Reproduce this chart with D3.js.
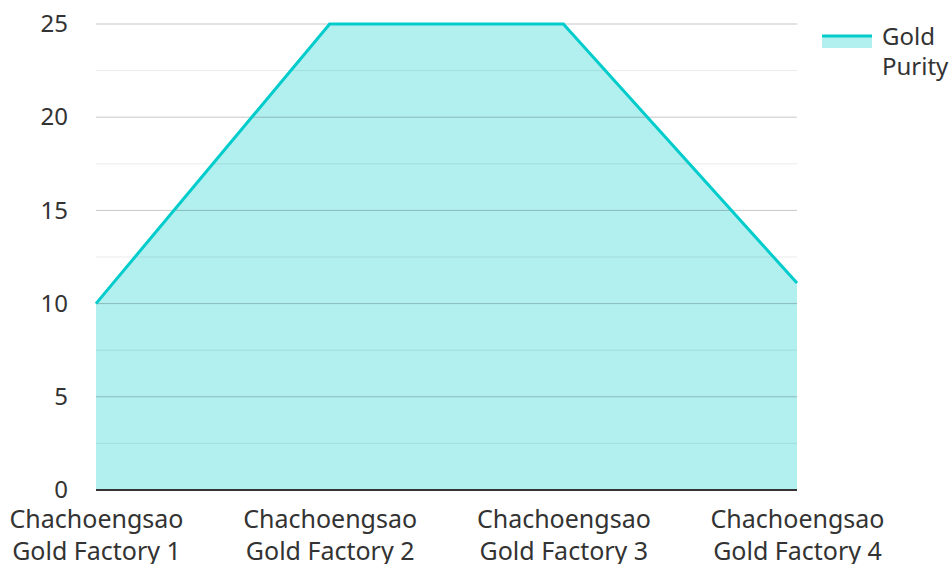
<!DOCTYPE html>
<html>
<head>
<meta charset="utf-8">
<script src="https://cdn.jsdelivr.net/npm/d3@7"></script>
<style>
  body { margin: 0; background: #fff; }
  text { font-family: "Noto Sans", "Open Sans", sans-serif; fill: #333; }
</style>
</head>
<body>
<div id="chart"></div>
<script>
// data
const factories = ["Chachoengsao Gold Factory 1", "Chachoengsao Gold Factory 2",
                   "Chachoengsao Gold Factory 3", "Chachoengsao Gold Factory 4"];
const purity = [10, 25, 25, 11.1];
const yTicks = [0, 5, 10, 15, 20, 25];
const minorTicks = [2.5, 7.5, 12.5, 17.5, 22.5];
const seriesName = ["Gold", "Purity"];

const W = 952, H = 564;
const margin = {top: 24, right: 155, bottom: 74, left: 96};
const width = W - margin.left - margin.right,
      height = H - margin.top - margin.bottom;

const svg = d3.select("#chart").append("svg")
    .attr("width", W).attr("height", H);
const g = svg.append("g")
    .attr("transform", `translate(${margin.left},${margin.top})`);

const x = d3.scalePoint().domain(factories).range([0, width]);
const y = d3.scaleLinear().domain([0, 25]).range([height, 0]);

// area + line first, gridlines drawn on top (as in reference)
const data = factories.map((f, i) => ({f, v: purity[i]}));

g.append("path")
    .datum(data)
    .attr("fill", "#b2efef")
    .attr("d", d3.area().x(d => x(d.f)).y0(height).y1(d => y(d.v)));

// minor grid
g.selectAll(".minor").data(minorTicks).enter().append("line")
    .attr("x1", 0).attr("x2", width)
    .attr("y1", d => y(d)).attr("y2", d => y(d))
    .attr("stroke", "#000").attr("stroke-opacity", 0.08).attr("stroke-width", 1);

// major grid
g.selectAll(".major").data(yTicks.slice(1)).enter().append("line")
    .attr("x1", 0).attr("x2", width)
    .attr("y1", d => y(d)).attr("y2", d => y(d))
    .attr("stroke", "#000").attr("stroke-opacity", 0.22).attr("stroke-width", 1);

g.append("path")
    .datum(data)
    .attr("fill", "none")
    .attr("stroke", "#00cccc")
    .attr("stroke-width", 3)
    .attr("d", d3.line().x(d => x(d.f)).y(d => y(d.v)));

// y axis labels
const yAxis = d3.axisLeft(y).tickValues(yTicks).tickSize(0).tickPadding(28);
g.append("g").attr("class", "axis y-axis").call(yAxis)
    .call(a => a.select(".domain").remove())
    .selectAll("text").style("font-size", "24px")
    .style("font-family", "'Noto Sans', sans-serif").attr("fill", "#333");

// baseline
g.append("line")
    .attr("x1", 0).attr("x2", width)
    .attr("y1", height).attr("y2", height)
    .attr("stroke", "#333").attr("stroke-width", 2);

// x axis labels (two lines)
const xAxis = d3.axisBottom(x).tickSize(0).tickFormat("");
const xg = g.append("g").attr("class", "axis x-axis")
    .attr("transform", `translate(0,${height})`).call(xAxis);
xg.select(".domain").remove();
xg.selectAll(".tick").append("text")
    .attr("text-anchor", "middle")
    .style("font-size", "25px")
    .style("font-family", "'Noto Sans', sans-serif")
    .attr("fill", "#333")
    .each(function(d) {
      const words = d.split(" ");
      const t = d3.select(this);
      t.append("tspan").attr("x", 0).attr("y", 38).text(words[0]);
      t.append("tspan").attr("x", 0).attr("y", 70).text(words.slice(1).join(" "));
    });

// legend
const lg = svg.append("g").attr("transform", "translate(822,34)");
lg.append("rect").attr("x", 0).attr("y", 2).attr("width", 50).attr("height", 12)
    .attr("fill", "#b2efef");
lg.append("line").attr("x1", 0).attr("x2", 50).attr("y1", 2).attr("y2", 2)
    .attr("stroke", "#00cccc").attr("stroke-width", 3);
lg.append("text").attr("x", 60).attr("y", 11)
    .style("font-size", "24px")
    .selectAll("tspan").data(seriesName).enter().append("tspan")
    .attr("x", 60).attr("dy", (d, i) => i === 0 ? 0 : 30).text(d => d);
</script>
</body>
</html>
